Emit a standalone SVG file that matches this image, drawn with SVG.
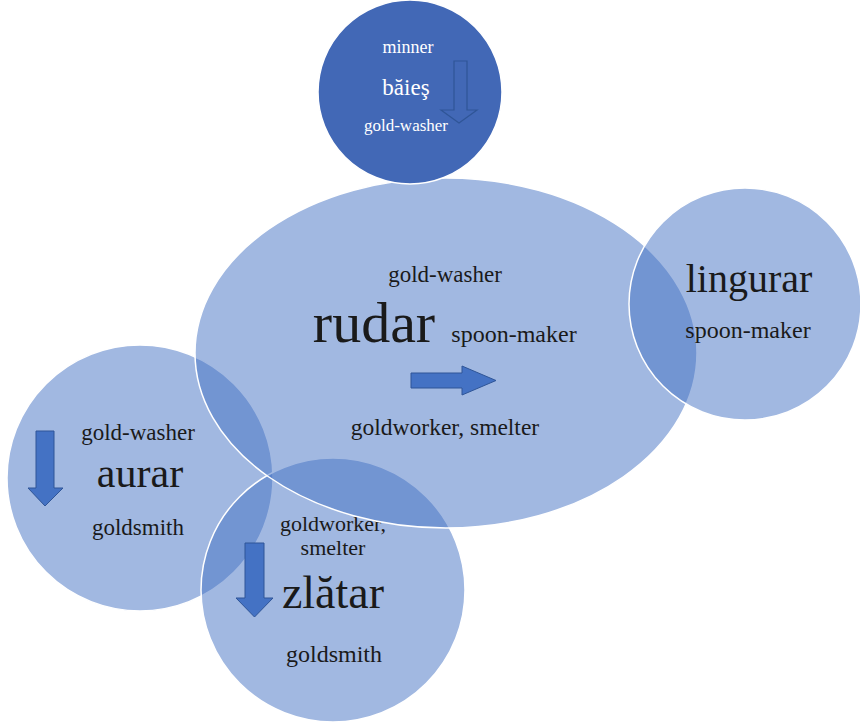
<svg xmlns="http://www.w3.org/2000/svg" width="860" height="722" viewBox="0 0 860 722">
<style>
.c{fill:#4472c4;fill-opacity:0.5;stroke:#ffffff;stroke-width:1.5}
.t{fill:#1a1a1a;text-anchor:middle}
.w{fill:#ffffff;text-anchor:middle}
.a{fill:#4472c4;stroke:#2f5597;stroke-width:1}
</style>
<rect width="860" height="722" fill="#ffffff"/>
<g font-family="Liberation Serif, Times New Roman, serif">
<g id="aurar">
<circle class="c" cx="140" cy="478" r="133"/>
<text class="t" x="138" y="440" font-size="23">gold-washer</text>
<text class="t" x="140" y="487" font-size="42">aurar</text>
<text class="t" x="138" y="535" font-size="23">goldsmith</text>
</g>
<g id="zlatar">
<circle class="c" cx="333" cy="590" r="132"/>
<text class="t" x="333" y="531" font-size="22">goldworker,</text>
<text class="t" x="333" y="555" font-size="22">smelter</text>
<text class="t" x="333" y="608" font-size="46">zlătar</text>
<text class="t" x="334" y="662" font-size="24">goldsmith</text>
</g>
<g id="rudar">
<ellipse class="c" cx="446" cy="353" rx="251" ry="175"/>
<text class="t" x="445" y="282" font-size="23">gold-washer</text>
<text class="t" x="374" y="342" font-size="58">rudar</text>
<text class="t" x="514" y="342" font-size="24">spoon-maker</text>
<text class="t" x="445" y="435" font-size="23.5">goldworker, smelter</text>
</g>
<g id="lingurar">
<circle class="c" cx="745" cy="304" r="116"/>
<text class="t" x="749" y="292" font-size="40">lingurar</text>
<text class="t" x="748" y="338" font-size="24">spoon-maker</text>
</g>
<g id="baies">
<circle cx="410" cy="92" r="92" fill="#4268b6" stroke="#ffffff" stroke-width="1.5"/>
<text class="w" x="408" y="53" font-size="18">minner</text>
<text class="w" x="406" y="95" font-size="23">băieş</text>
<text class="w" x="406" y="131" font-size="17">gold-washer</text>
</g>
</g>
<g id="connectors">
<path d="M454,61 H467 V110 H477 L459,123 L441,110 H454 Z" fill="none" stroke="#2f5597" stroke-width="1.2"/>
<path class="a" d="M411,373 H462 V366 L496,380.5 L462,395 V388 H411 Z"/>
<path class="a" d="M36,431 H54 V488 H63 L45,506 L28,488 H36 Z"/>
<path class="a" d="M245,543 H264 V598 H273 L254.5,617 L236,598 H245 Z"/>
</g>
</svg>
